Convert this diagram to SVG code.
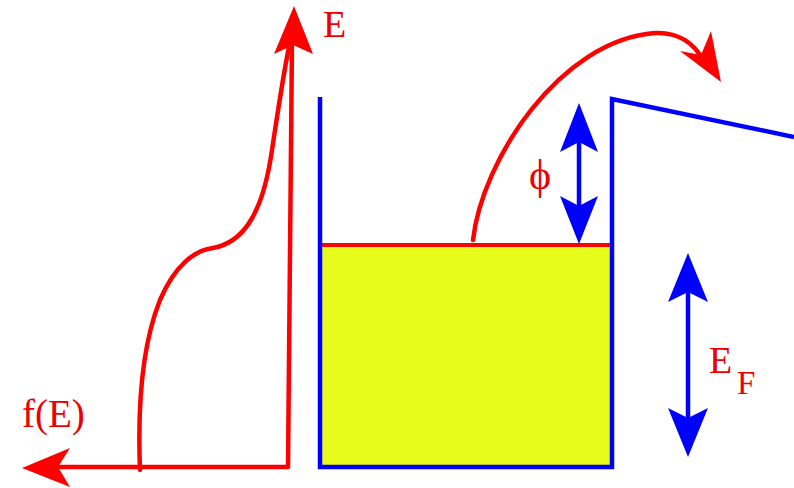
<svg xmlns="http://www.w3.org/2000/svg" width="794" height="488" viewBox="0 0 794 488">
<style>
.red{fill:none;stroke:#f00;stroke-width:4.5;stroke-linecap:round;stroke-linejoin:round}
.blue{fill:none;stroke:#00f;stroke-width:4.5;stroke-linejoin:miter}
.rh{fill:#f00;stroke:none}
.bh{fill:#00f;stroke:none}
.lbl{font-family:"Liberation Serif","DejaVu Serif",serif;fill:#e00}
</style>
<rect width="794" height="488" fill="#fff"/>
<g id="well">
  <rect x="320" y="245" width="292" height="222" fill="#e8fc1c"/>
  <line x1="320" y1="245" x2="612" y2="245" stroke="#f00" stroke-width="4"/>
  <polyline class="blue" points="320,97 320,467 612,467 612,99 794,137"/>
</g>
<g id="axes">
  <polyline class="red" points="40,467 288,467 292,40"/>
  <polygon class="rh" points="22,468 70,448 58,467 70,487"/>
  <polygon class="rh" points="294,6 313,54 293,45 274,54"/>
</g>
<g id="distribution">
  <path class="red" d="M140,470 C138,420 140,350 160,300 C175,265 195,250 213,248 C240,243 262,220 272,150 C278,110 284,70 289,47"/>
</g>
<g id="emission">
  <path class="red" d="M473,240 C482,160 560,40 655,33 C680,32 695,45 703,60"/>
  <polygon class="rh" points="721,82 680,51 701,55 711,31"/>
</g>
<g id="phi-arrow">
  <line x1="579" y1="130" x2="579" y2="215" stroke="#00f" stroke-width="4.5"/>
  <polygon class="bh" points="579,103 598,152 579,142 560,152"/>
  <polygon class="bh" points="579,244 598,196 579,206 560,196"/>
</g>
<g id="ef-arrow">
  <line x1="688" y1="280" x2="688" y2="430" stroke="#00f" stroke-width="4.5"/>
  <polygon class="bh" points="688,253 708,302 688,292 668,302"/>
  <polygon class="bh" points="688,457 708,408 688,418 668,408"/>
</g>
<g id="labels">
  <text class="lbl" x="323" y="37" font-size="38">E</text>
  <text class="lbl" x="22" y="427" font-size="39">f(E)</text>
  <text class="lbl" x="529" y="189" font-size="42">ϕ</text>
  <text class="lbl" x="709" y="373" font-size="38">E</text>
  <text class="lbl" x="737" y="394" font-size="33">F</text>
</g>
</svg>
